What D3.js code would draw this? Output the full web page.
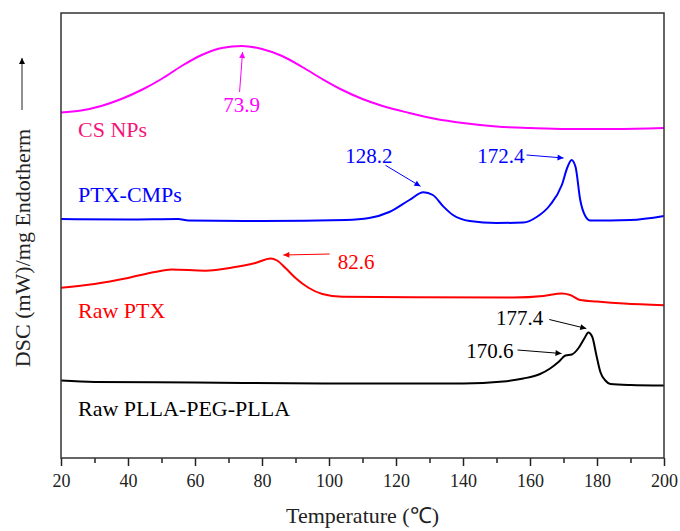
<!DOCTYPE html>
<html>
<head>
<meta charset="utf-8">
<script src="https://cdn.jsdelivr.net/npm/d3@7"></script>
<style>
  body { margin: 0; background: #fff; }
  svg text { font-family: "Liberation Serif", "Times New Roman", serif; }
</style>
</head>
<body>
<div id="chart"></div>
<script>
// DSC curves (heat flow in arbitrary units, stacked)
const csTemp = [20, 26, 32, 38, 44, 50, 56, 62, 68, 74, 80, 86, 92, 98, 104, 110, 116, 124, 132, 140, 150, 160, 171, 185, 200];
const csFlow = [3.455, 3.475, 3.52, 3.59, 3.68, 3.79, 3.92, 4.03, 4.10, 4.12, 4.09, 4.02, 3.91, 3.79, 3.68, 3.59, 3.52, 3.45, 3.39, 3.35, 3.315, 3.30, 3.29, 3.29, 3.30];

const ptxCmpTemp = [20, 40, 55, 58, 80, 105, 112, 118, 124, 128.2, 131, 134, 137, 142, 150, 158, 162, 166, 169.5, 171.2, 172.4, 173.6, 175, 176.5, 178, 190, 200];
const ptxCmpFlow = [2.39, 2.385, 2.39, 2.375, 2.37, 2.38, 2.40, 2.46, 2.58, 2.657, 2.63, 2.52, 2.43, 2.37, 2.35, 2.355, 2.41, 2.53, 2.73, 2.91, 2.98, 2.91, 2.58, 2.42, 2.375, 2.38, 2.42];

const rawPtxTemp = [20, 30, 40, 48, 53, 63, 72, 78, 82.6, 84.5, 87, 90, 94, 98, 104, 125, 155, 164, 169.5, 172, 175, 180, 188, 200];
const rawPtxFlow = [1.703, 1.74, 1.80, 1.86, 1.885, 1.873, 1.91, 1.95, 1.995, 1.975, 1.90, 1.80, 1.70, 1.64, 1.613, 1.607, 1.605, 1.62, 1.645, 1.63, 1.58, 1.565, 1.545, 1.527];

const pllaTemp = [20, 30, 60, 100, 140, 152, 158, 163, 166, 168.5, 170.6, 172.5, 174.5, 176.3, 177.4, 178.6, 179.8, 181, 182.5, 184, 190, 200];
const pllaFlow = [0.775, 0.76, 0.755, 0.745, 0.745, 0.765, 0.795, 0.84, 0.895, 0.96, 1.025, 1.035, 1.10, 1.20, 1.255, 1.21, 1.03, 0.86, 0.775, 0.74, 0.73, 0.725];

const seriesNames = ["CS NPs", "PTX-CMPs", "Raw PTX", "Raw PLLA-PEG-PLLA"];
const seriesColors = ["#ff00ff", "#0000ff", "#ff0000", "#000000"];
const labelColors = ["#f5157a", "#0000ff", "#ff0000", "#000000"];

// peak annotations: which series, temperature, text
const peakSeries = [0, 1, 1, 2, 3, 3];
const peakTemps = [73.9, 128.2, 172.4, 82.6, 177.4, 170.6];
const peakLabels = ["73.9", "128.2", "172.4", "82.6", "177.4", "170.6"];

const xTicks = [20, 40, 60, 80, 100, 120, 140, 160, 180, 200];
const xMinorTicks = [30, 50, 70, 90, 110, 130, 150, 170, 190];

const width = 680, height = 531;
const margin = { top: 13, right: 16, bottom: 73, left: 61 };

const series = [
  { temp: csTemp, flow: csFlow },
  { temp: ptxCmpTemp, flow: ptxCmpFlow },
  { temp: rawPtxTemp, flow: rawPtxFlow },
  { temp: pllaTemp, flow: pllaFlow }
].map((s, i) => ({
  name: seriesNames[i],
  color: seriesColors[i],
  labelColor: labelColors[i],
  points: s.temp.map((t, j) => ({ t: t, v: s.flow[j] }))
}));

const svg = d3.select("#chart").append("svg")
  .attr("width", width)
  .attr("height", height);

const x = d3.scaleLinear().domain([20, 200]).range([margin.left, width - margin.right]);
const y = d3.scaleLinear().domain([0, 4.45]).range([height - margin.bottom, margin.top]);

// arrowhead markers, one per colour
const defs = svg.append("defs");
seriesColors.forEach((c, i) => {
  defs.append("marker")
    .attr("id", "arrow" + i)
    .attr("viewBox", "0 0 10 10")
    .attr("refX", 10)
    .attr("refY", 5)
    .attr("markerWidth", 10)
    .attr("markerHeight", 6)
    .attr("markerUnits", "userSpaceOnUse")
    .attr("orient", "auto")
    .append("path")
    .attr("d", "M0,0 L10,5 L0,10 z")
    .attr("fill", c);
});

// curves
const line = d3.line()
  .x(d => x(d.t))
  .y(d => y(d.v))
  .curve(d3.curveMonotoneX);

svg.append("g")
  .selectAll("path")
  .data(series)
  .join("path")
  .attr("d", d => line(d.points))
  .attr("fill", "none")
  .attr("stroke", d => d.color)
  .attr("stroke-width", 2);

// series labels (offsets from curve start, in px)
const labelOffsets = [24.5, -17, 30.5, 35.5];
svg.append("g")
  .selectAll("text")
  .data(series)
  .join("text")
  .attr("x", x(20) + 17)
  .attr("y", (d, i) => y(d.points[0].v) + labelOffsets[i])
  .attr("fill", d => d.labelColor)
  .attr("font-size", 22)
  .text(d => d.name);

// peak annotations
function valueAt(points, t) {
  const i = d3.bisector(d => d.t).left(points, t);
  if (i <= 0) return points[0].v;
  if (i >= points.length) return points[points.length - 1].v;
  const a = points[i - 1], b = points[i];
  return a.v + (b.v - a.v) * (t - a.t) / (b.t - a.t);
}

// tip / tail / text offsets from the peak point (px)
const annLayout = [
  { tip: [1, 6], tail: [-2, 46], text: [0, 66], anchor: "middle" },
  { tip: [-3, -6], tail: [-38, -27], text: [-31, -29], anchor: "end" },
  { tip: [-8, -2], tail: [-45, -5], text: [-47, 3], anchor: "end" },
  { tip: [12.6, -3.5], tail: [59, -4.5], text: [67, 10], anchor: "start" },
  { tip: [-2, -4], tail: [-39, -13], text: [-45, -7.5], anchor: "end" },
  { tip: [-4, -2], tail: [-48, -5.5], text: [-52, 2], anchor: "end" }
];

const ann = svg.append("g");
peakTemps.forEach((t, i) => {
  const s = series[peakSeries[i]];
  const px = x(t), py = y(valueAt(s.points, t));
  const L = annLayout[i];
  ann.append("line")
    .attr("x1", px + L.tail[0]).attr("y1", py + L.tail[1])
    .attr("x2", px + L.tip[0]).attr("y2", py + L.tip[1])
    .attr("stroke", s.color)
    .attr("stroke-width", 1)
    .attr("marker-end", "url(#arrow" + peakSeries[i] + ")");
  ann.append("text")
    .attr("x", px + L.text[0])
    .attr("y", py + L.text[1])
    .attr("text-anchor", L.anchor)
    .attr("fill", s.color)
    .attr("font-size", 21)
    .text(peakLabels[i]);
});

// x axis
const xAxis = svg.append("g")
  .attr("transform", `translate(0,${height - margin.bottom})`)
  .call(d3.axisBottom(x).tickValues(xTicks).tickSize(8).tickPadding(8));
xAxis.select(".domain").remove();
xAxis.selectAll(".tick line").attr("stroke", "#222").attr("stroke-width", 1.5);
xAxis.selectAll(".tick text")
  .attr("font-size", 18)
  .attr("fill", "#222")
  .style("font-family", "'Liberation Serif', 'Times New Roman', serif");

const xMinor = svg.append("g")
  .attr("transform", `translate(0,${height - margin.bottom})`)
  .call(d3.axisBottom(x).tickValues(xMinorTicks).tickSize(5).tickFormat(""));
xMinor.select(".domain").remove();
xMinor.selectAll(".tick line").attr("stroke", "#222").attr("stroke-width", 1.5);

// frame
svg.append("rect")
  .attr("x", margin.left)
  .attr("y", margin.top)
  .attr("width", width - margin.left - margin.right)
  .attr("height", height - margin.top - margin.bottom)
  .attr("fill", "none")
  .attr("stroke", "#333")
  .attr("stroke-width", 1.5);

// axis titles
svg.append("text")
  .attr("x", (margin.left + width - margin.right) / 2)
  .attr("y", 523)
  .attr("text-anchor", "middle")
  .attr("font-size", 22)
  .attr("fill", "#222")
  .text("Temperature (\u2103)");

svg.append("text")
  .attr("transform", "translate(30,248) rotate(-90)")
  .attr("text-anchor", "middle")
  .attr("font-size", 22)
  .attr("fill", "#222")
  .text("DSC (mW)/mg Endotherm");

svg.append("line")
  .attr("x1", 22).attr("y1", 110)
  .attr("x2", 22).attr("y2", 58)
  .attr("stroke", "#222")
  .attr("stroke-width", 1)
  .attr("marker-end", "url(#arrow3)");
</script>
</body>
</html>
